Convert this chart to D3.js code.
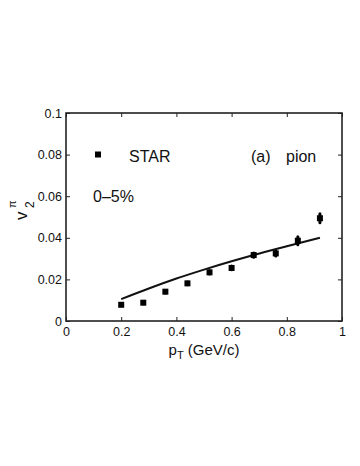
<!DOCTYPE html>
<html>
<head>
<meta charset="utf-8">
<script src="https://cdn.jsdelivr.net/npm/d3@7"></script>
<style>
  body { margin: 0; background: #fff; }
  svg text { font-family: "Liberation Sans", Arial, Helvetica, sans-serif; fill: #111; }
</style>
</head>
<body>
<div id="chart"></div>
<script>
// STAR pion v2 data, 0-5% centrality
const ptStar = [0.20, 0.28, 0.36, 0.44, 0.52, 0.60, 0.68, 0.76, 0.84, 0.92];
const v2Star = [0.0078, 0.0088, 0.0141, 0.0181, 0.0234, 0.0255, 0.0317, 0.0325, 0.0386, 0.0494];
const v2Err  = [0.0005, 0.0005, 0.0006, 0.0007, 0.0008, 0.0009, 0.0010, 0.0012, 0.0019, 0.0022];

// model curve
const ptModel = [0.20, 0.30, 0.40, 0.50, 0.60, 0.68, 0.80, 0.92];
const v2Model = [0.0105, 0.0156, 0.0204, 0.0247, 0.0287, 0.0317, 0.0359, 0.0400];

const xTicks = [0, 0.2, 0.4, 0.6, 0.8, 1];
const yTicks = [0, 0.02, 0.04, 0.06, 0.08, 0.1];

const W = 360, H = 466;
const margin = {top: 113, right: 18, bottom: 145, left: 66};
const width = W - margin.left - margin.right;
const height = H - margin.top - margin.bottom;

const svg = d3.select('#chart').append('svg')
    .attr('width', W)
    .attr('height', H);

const g = svg.append('g')
    .attr('transform', `translate(${margin.left},${margin.top})`);

const x = d3.scaleLinear().domain([0, 1]).range([0, width]);
const y = d3.scaleLinear().domain([0, 0.1]).range([height, 0]);

const fmt = d => d === 0 ? '0' : (d === 1 ? '1' : d3.format('.2~f')(d));

// axes, ticks pointing inward
const xAxis = g.append('g')
    .attr('transform', `translate(0,${height})`)
    .call(d3.axisBottom(x).tickValues(xTicks).tickFormat(fmt).tickSize(-4).tickPadding(6));
const yAxis = g.append('g')
    .call(d3.axisLeft(y).tickValues(yTicks).tickFormat(fmt).tickSize(-4).tickPadding(4));
const xTop = g.append('g')
    .call(d3.axisTop(x).tickValues(xTicks).tickFormat('').tickSize(-4));
const yRight = g.append('g')
    .attr('transform', `translate(${width},0)`)
    .call(d3.axisRight(y).tickValues(yTicks).tickFormat('').tickSize(-4));

[xAxis, yAxis, xTop, yRight].forEach(a => {
    a.select('.domain').remove();
    a.selectAll('line').attr('stroke', '#222').attr('stroke-width', 1);
    a.selectAll('text').style('font-size', '12.5px').attr('fill', '#111');
});

// frame
g.append('rect')
    .attr('x', 0).attr('y', 0)
    .attr('width', width).attr('height', height)
    .attr('fill', 'none')
    .attr('stroke', '#222')
    .attr('stroke-width', 1.6);

// model line
const line = d3.line()
    .x((d, i) => x(ptModel[i]))
    .y(d => y(d))
    .curve(d3.curveMonotoneX);

g.append('path')
    .datum(v2Model)
    .attr('d', line)
    .attr('fill', 'none')
    .attr('stroke', '#111')
    .attr('stroke-width', 2);

// error bars
g.selectAll('.err')
    .data(ptStar)
    .enter().append('line')
    .attr('class', 'err')
    .attr('x1', d => x(d)).attr('x2', d => x(d))
    .attr('y1', (d, i) => y(v2Star[i] - v2Err[i]))
    .attr('y2', (d, i) => y(v2Star[i] + v2Err[i]))
    .attr('stroke', '#000')
    .attr('stroke-width', 3)
    .attr('stroke-linecap', 'round');

// data squares
const sq = 6;
g.selectAll('.pt')
    .data(ptStar)
    .enter().append('rect')
    .attr('class', 'pt')
    .attr('x', d => x(d) - sq / 2)
    .attr('y', (d, i) => y(v2Star[i]) - sq / 2)
    .attr('width', sq)
    .attr('height', sq)
    .attr('fill', '#000');

// legend and labels
g.append('rect')
    .attr('x', 29).attr('y', 38.5)
    .attr('width', sq).attr('height', sq)
    .attr('fill', '#000');

g.append('text')
    .attr('x', 63).attr('y', 48.7)
    .style('font-size', '16px')
    .text('STAR');

g.append('text')
    .attr('x', 185).attr('y', 48.7)
    .style('font-size', '16px')
    .text('(a)');

g.append('text')
    .attr('x', 220).attr('y', 48.7)
    .style('font-size', '16px')
    .text('pion');

g.append('text')
    .attr('x', 27).attr('y', 88.7)
    .style('font-size', '16px')
    .text('0\u20135%');

// x title
const xt = svg.append('text')
    .attr('x', margin.left + width / 2)
    .attr('y', 355)
    .attr('text-anchor', 'middle')
    .style('font-size', '15px');
xt.append('tspan').text('p');
xt.append('tspan').attr('dy', 4).style('font-size', '11px').text('T');
xt.append('tspan').attr('dy', -4).text(' (GeV/c)');

// y title (rotated)
svg.append('text')
    .attr('transform', 'translate(27,220) rotate(-90)')
    .style('font-size', '17px')
    .text('v');
svg.append('text')
    .attr('transform', 'translate(34,208) rotate(-90)')
    .style('font-size', '12px')
    .text('2');
svg.append('text')
    .attr('transform', 'translate(16,208) rotate(-90)')
    .style('font-size', '11px')
    .text('\u03c0');
</script>
</body>
</html>
